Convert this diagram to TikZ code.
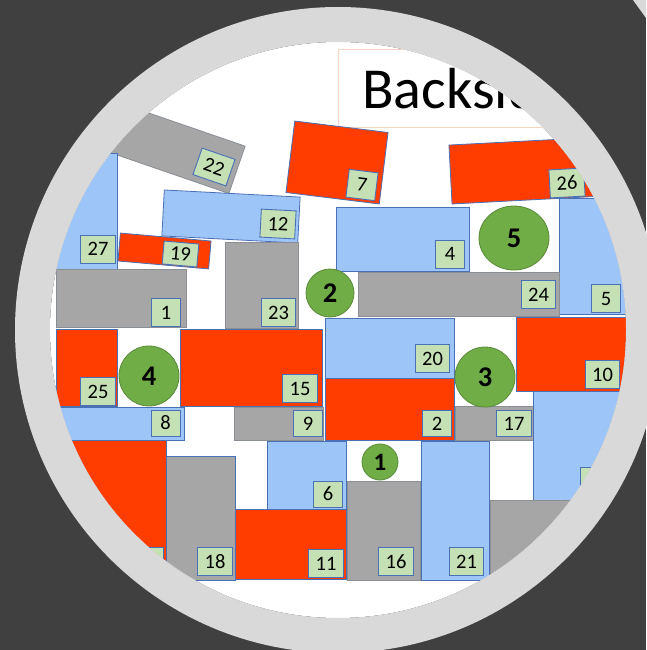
\documentclass[tikz,border=0pt]{standalone}
\usepackage{fontspec}
\setmainfont{Carlito}
\usetikzlibrary{shapes.geometric}
\definecolor{bgDark}{HTML}{404040}
\definecolor{ringGray}{HTML}{D9D9D9}
\definecolor{pBlue}{HTML}{9EC5F7}
\definecolor{pRed}{HTML}{FF3D00}
\definecolor{pGray}{HTML}{A6A6A6}
\definecolor{pGreen}{HTML}{70AD47}
\definecolor{tagFill}{HTML}{C5E0B4}
\definecolor{edgeBlue}{HTML}{4A70B5}
\definecolor{edgeGray}{HTML}{8A8F96}
\definecolor{peach}{HTML}{F8D5C2}
\tikzset{
  blk/.style={rectangle, draw=edgeBlue, line width=0.8pt, inner sep=0pt, outer sep=0pt},
  sz/.style 2 args={minimum width=#1pt, minimum height=#2pt},
  tag/.style={rectangle, draw=edgeBlue, fill=tagFill, line width=0.9pt, inner xsep=7pt, inner ysep=0pt,
    minimum width=29pt, minimum height=28pt, font=\fontsize{20.5}{20.5}\selectfont},
  disc/.style={circle, draw=pGreen!80!black, fill=pGreen, line width=0.8pt, inner sep=0pt,
    font=\bfseries\fontsize{28.5}{28.5}\selectfont},
}
\begin{document}
\begin{tikzpicture}[x=1pt, y=-1pt,
  blueblk/.style={blk, fill=pBlue},
  redblk/.style={blk, fill=pRed},
  grayblk/.style={blk, fill=pGray, draw=edgeGray},
  titlebox/.style={rectangle, draw=peach, fill=white, line width=0.6pt, inner ysep=0pt, inner xsep=24pt,
    text width=234pt, align=left, minimum height=78pt, font=\fontsize{58}{58}\selectfont}]
\useasboundingbox (0,0) rectangle (646,650);
\fill[bgDark] (0,0) rectangle (646,650);
\fill[white] (338,330) circle[radius=288pt];
\begin{scope}
\clip (338,330) circle[radius=288pt];
\node[titlebox, anchor=north west] (title) at (338,49) {Backside};
% top row
\node[grayblk, sz={220}{50}, rotate=-19] (r22) at (133,134) {};
\node[tag, rotate=-19] (t22) at (214,167) {22};
\node[redblk, sz={94}{72}, rotate=-7] (r7) at (337,162.5) {};
\node[tag, rotate=-7] (t7) at (362,185) {7};
\node[redblk, sz={150}{59}, rotate=3] (r26) at (525.4,170.6) {};
\node[blueblk, sz={87}{116}] (r27) at (73.5,211) {};
\node[tag] (t27) at (98,249) {27};
\node[blueblk, sz={101}{116}] (r5) at (609.5,256) {};
\node[tag] (t5) at (606,298.5) {5};
\node[tag, rotate=3] (t26) at (567,183) {26};
\node[blueblk, sz={136}{46}, rotate=-3] (r12) at (231,216.5) {};
\node[tag, rotate=-3] (t12) at (278,224) {12};
\node[redblk, sz={91}{28}, rotate=-5] (r19) at (164.5,251) {};
\node[tag, rotate=-5, minimum height=23pt] (t19) at (180.5,254) {19};
\node[blueblk, sz={133}{64}] (r4) at (402.5,239) {};
\node[tag] (t4) at (450,254) {4};
% middle rows
\node[grayblk, sz={73}{86}] (r23) at (261.5,285) {};
\node[tag] (t23) at (278.5,312.5) {23};
\node[grayblk, sz={130}{58}] (r1) at (121,298) {};
\node[tag] (t1) at (166,312.5) {1};
\node[grayblk, sz={201}{44}] (r24) at (458.5,294) {};
\node[tag] (t24) at (538.5,294.5) {24};
\node[redblk, sz={61}{77}] (r25) at (86.5,367.5) {};
\node[tag] (t25) at (98,391.5) {25};
\node[redblk, sz={142}{77}] (r15) at (251,367.5) {};
\node[tag] (t15) at (300,388.5) {15};
\node[blueblk, sz={129}{60}] (r20) at (389.5,348) {};
\node[tag] (t20) at (432.5,358.5) {20};
\node[redblk, sz={134}{74}] (r10) at (583,354) {};
\node[tag] (t10) at (602.5,374.5) {10};
\node[blueblk, sz={154}{33}] (r8) at (107,423.5) {};
\node[tag, minimum height=26pt] (t8) at (165.5,423) {8};
\node[grayblk, sz={89}{33}] (r9) at (278.5,423.5) {};
\node[tag, minimum height=26pt] (t9) at (308,423.5) {9};
\node[redblk, sz={129}{62}] (r2) at (389.5,409) {};
\node[tag, minimum height=26pt] (t2) at (437,423.5) {2};
\node[grayblk, sz={78}{34}] (r17) at (494,423) {};
\node[tag, minimum height=26pt] (t17) at (514,423.5) {17};
\node[blueblk, sz={117}{109}] (rB) at (591.5,445.5) {};
\node[tag, minimum width=35pt] (tB) at (598,481.5) {};
% bottom row
\node[redblk, sz={136}{140}] (rR) at (98,510) {};
\node[tag, minimum width=35pt] (tR) at (146,561.5) {};
\node[blueblk, sz={79}{68}] (r6) at (306.5,475) {};
\node[tag, minimum height=26pt] (t6) at (328,494) {6};
\node[blueblk, sz={68}{139}] (r21) at (455,510.5) {};
\node[tag] (t21) at (466.5,561.5) {21};
\node[grayblk, sz={160}{140}] (rG) at (570,570) {};
\node[grayblk, sz={73}{99}] (r16) at (383.5,530.5) {};
\node[tag] (t16) at (396,561.5) {16};
\node[redblk, sz={111}{70}] (r11) at (290.5,544) {};
\node[tag] (t11) at (326,563.5) {11};
\node[grayblk, draw=edgeBlue, sz={69}{124}] (r18) at (200.5,518) {};
\node[tag] (t18) at (215,561.5) {18};
% circles
\node[disc, minimum size=36pt, font=\bfseries\fontsize{25}{25}\selectfont] (c1) at (380,462) {1};
\node[disc, minimum size=48pt] (c2) at (330,293) {2};
\node[disc, minimum size=60pt] (c3) at (485,377) {3};
\node[disc, minimum size=60pt] (c4) at (149,376) {4};
\node[disc, ellipse, minimum width=70pt, minimum height=64pt] (c5) at (514,238) {5};
\end{scope}
\fill[ringGray, even odd rule] (338,330) circle[radius=323pt] (338,330) circle[radius=288pt];
\fill[ringGray] (633,0) -- (646,0) -- (646,18) -- cycle;
\end{tikzpicture}
\end{document}
